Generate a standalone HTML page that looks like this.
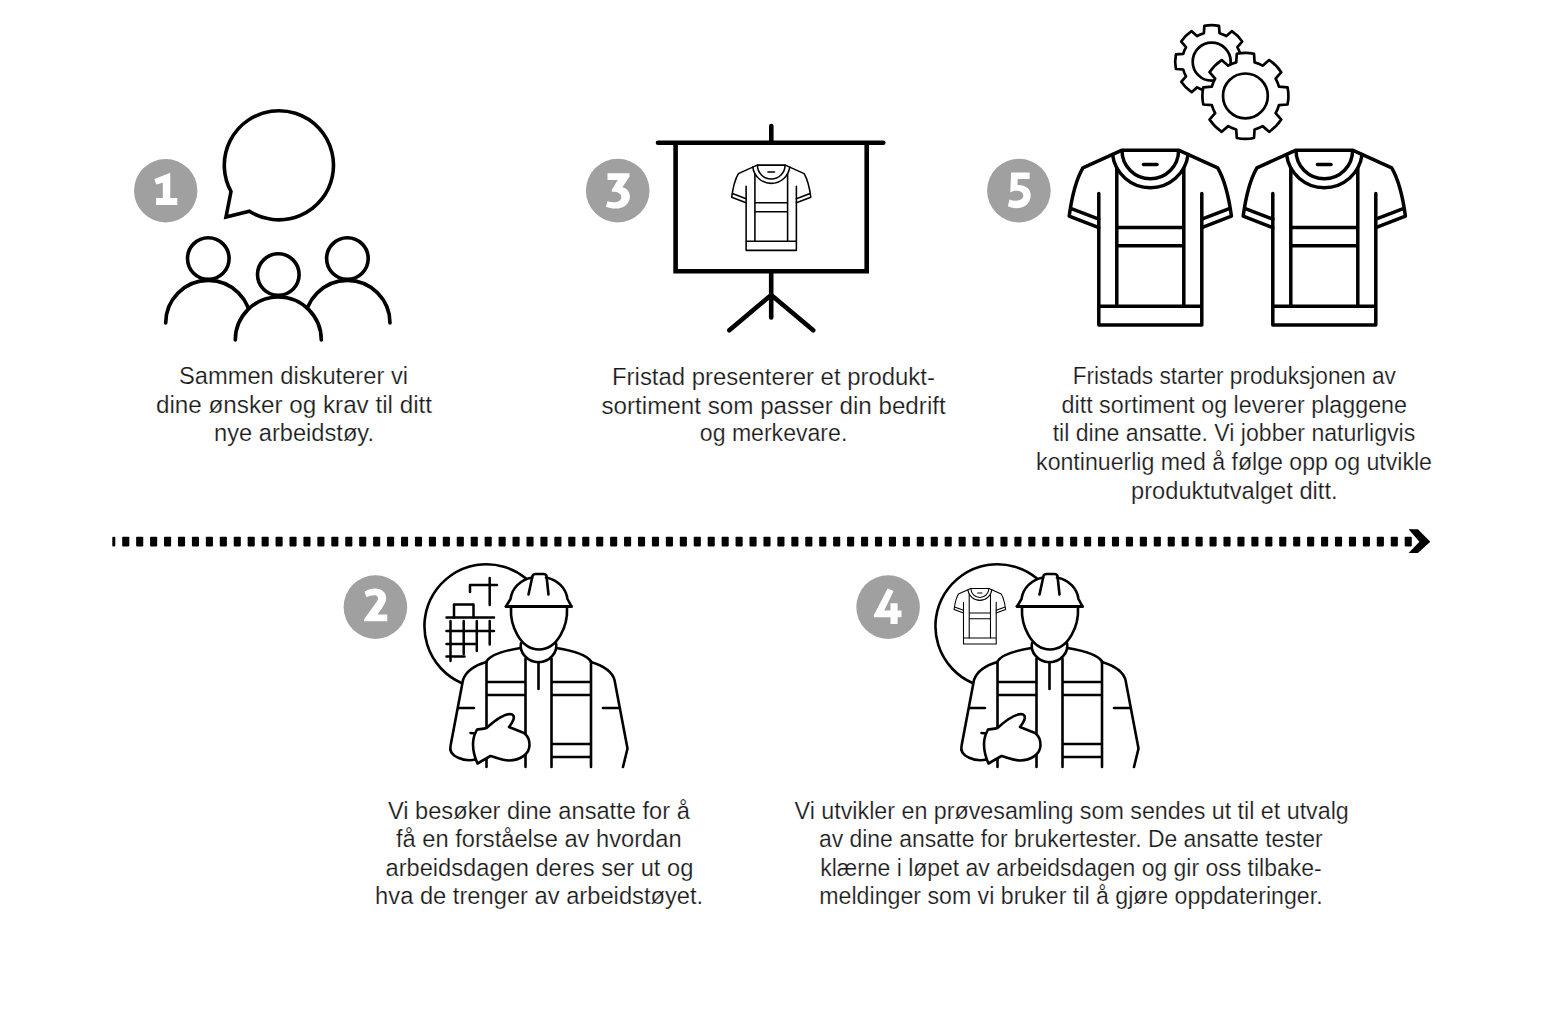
<!DOCTYPE html>
<html><head><meta charset="utf-8"><title>Fristad process</title>
<style>
html,body{margin:0;padding:0;background:#fff;}
body{width:1550px;height:1016px;overflow:hidden;position:relative;}
svg{position:absolute;left:0;top:0;display:block;}
.txt text{font-family:"Liberation Sans",sans-serif;font-size:23.5px;fill:#1a1a1a;stroke:#fff;stroke-width:0.2px;}
</style></head><body>
<svg width="1550" height="1016" viewBox="0 0 1550 1016">
<defs>
<g id="shirt" fill="none" stroke-linecap="round" stroke-linejoin="round">
<path d="M1123,150.3H1177.6"/>
<path d="M1121.5,150.3L1082.9,167.8Q1073.5,184 1069.2,216.1L1098.8,227.6M1070.7,208.4L1098.8,219.1"/>
<path d="M1179.1,150.3L1217.7,167.8Q1227.1,184 1231.4,216.1L1201.8,227.6M1229.9,208.4L1201.8,219.1"/>
<path d="M1098.8,193.6V325H1201.8V193.6M1098.8,306.2H1201.8"/>
<path d="M1116.8,168V306.2M1183.8,168V306.2M1116.8,227.5H1183.8M1116.8,245.8H1183.8"/>
<path d="M1122,150.5A28.3,28.3 0 0 0 1178.6,150.5"/>
<path d="M1112.5,154.4A38.1,38.1 0 0 0 1188.1,154.4"/>
<path d="M1143.5,164.5H1157"/>
</g>
</defs>
<g fill="#a0a0a0">
<circle cx="165.7" cy="190.7" r="31.7"/>
<circle cx="375.4" cy="607.1" r="31.8"/>
<circle cx="617.7" cy="190.6" r="31.8"/>
<circle cx="888.1" cy="607.1" r="31.8"/>
<circle cx="1018.9" cy="190.6" r="31.8"/>
</g>
<g fill="#fff">
<path d="M170.25,172.8V198H177.3V205.1H156.1V198H162.8V182.7L156.1,184.6L154.5,179.1Z"/>
<path d="M364.5,591.8C368,589.5 371.5,588.6 375.1,588.6C381.5,588.6 386.2,592.5 386.2,598.1C386.2,602 384,605.5 377.5,614.6H387.3V621.3H364.1V619.3L376.5,602C377.5,600.5 378,599.5 378,598.3C378,596.4 376.5,595.3 374.4,595.3C371.7,595.3 369,596.2 366.5,597.3Z"/>
<path d="M607.5,173.2H629.5V176.5L622.4,187.2C626.8,188.2 629.9,191.6 629.9,196.4C629.9,203.5 623.8,208.6 615.4,208.6C611.9,208.6 608.6,207.8 605.9,206.7L607.5,201.2C609.6,201.9 611.6,202.3 613.8,202.3C618.2,202.3 621.3,200.2 621.3,197.2C621.3,193.6 618,191.7 613,191.7H611.8V189.8L617.7,179.9H607.5Z"/>
<path d="M887.7,588.6L893.6,591L884.2,610.6H890.5V603.2H897.6V610.6H901.5V617.3H897.6V624H890.5V617.3H873.9V615Z"/>
<path d="M1011.1,172.4H1029.6V179.1H1017.7L1017.4,185C1025.5,184.8 1030.7,189 1030.7,195.2C1030.7,203 1024.8,208.2 1016.5,208.2C1013.3,208.2 1010.4,207.5 1007.9,206.3L1009.5,199.6C1011.5,200.4 1013.5,200.8 1015.8,200.8C1020.3,200.8 1023.3,198.7 1023.3,195.6C1023.3,192.6 1020.3,190.8 1015.8,190.8C1013.8,190.8 1012,191.4 1010.3,192.5Z"/>
</g>

<g fill="none" stroke="#000" stroke-width="3.6" stroke-linejoin="miter" stroke-linecap="round">
<path d="M231,191.5L226,217L249.5,211.3A54.6,54.6 0 1 0 231,191.5Z" fill="#fff"/>
<path d="M165.7,323A42.6,42.6 0 0 1 250.9,323"/>
<path d="M304.8,323A42.6,42.6 0 0 1 390,323"/>
<path d="M235.3,340A43,43 0 0 1 321.3,340" fill="#fff"/>
<circle cx="208.3" cy="258.6" r="20.8"/>
<circle cx="278.3" cy="274.6" r="20.8"/>
<circle cx="347.4" cy="258.6" r="20.8"/>
</g>

<g fill="none" stroke="#000" stroke-width="4.6" stroke-linecap="round" stroke-linejoin="miter">
<path d="M658,142.7H883.3"/>
<path d="M771.3,126V142.7"/>
<path d="M675.6,142.7V271.2H866.7V142.7" stroke-linecap="butt"/>
<path d="M771.2,271.2V317.5M729.3,330.3L771.2,295L813.2,330.3"/>
</g>
<use href="#shirt" stroke="#000" stroke-width="3.2" transform="translate(209.904,91.754) scale(0.488)"/>

<g fill="#fff" stroke="#000" stroke-width="2.7" stroke-linejoin="round">
<path d="M1203.89,33.21L1204.40,25.93A36.51,36.51 0 0 1 1219.00,25.93L1219.51,33.21A29.55,29.55 0 0 1 1226.33,36.03L1231.83,31.24A36.51,36.51 0 0 1 1242.16,41.57L1237.37,47.07A29.55,29.55 0 0 1 1240.19,53.89L1247.47,54.40A36.51,36.51 0 0 1 1247.47,69.00L1240.19,69.51A29.55,29.55 0 0 1 1237.37,76.33L1242.16,81.83A36.51,36.51 0 0 1 1231.83,92.16L1226.33,87.37A29.55,29.55 0 0 1 1219.51,90.19L1219.00,97.47A36.51,36.51 0 0 1 1204.40,97.47L1203.89,90.19A29.55,29.55 0 0 1 1197.07,87.37L1191.57,92.16A36.51,36.51 0 0 1 1181.24,81.83L1186.03,76.33A29.55,29.55 0 0 1 1183.21,69.51L1175.93,69.00A36.51,36.51 0 0 1 1175.93,54.40L1183.21,53.89A29.55,29.55 0 0 1 1186.03,47.07L1181.24,41.57A36.51,36.51 0 0 1 1191.57,31.24L1197.07,36.03A29.55,29.55 0 0 1 1203.89,33.21Z"/>
<circle cx="1211.7" cy="61.7" r="19" fill="none"/>
<path d="M1236.20,62.34L1236.80,53.77A43.00,43.00 0 0 1 1254.00,53.77L1254.60,62.34A34.80,34.80 0 0 1 1262.63,65.66L1269.11,60.03A43.00,43.00 0 0 1 1281.27,72.19L1275.64,78.67A34.80,34.80 0 0 1 1278.96,86.70L1287.53,87.30A43.00,43.00 0 0 1 1287.53,104.50L1278.96,105.10A34.80,34.80 0 0 1 1275.64,113.13L1281.27,119.61A43.00,43.00 0 0 1 1269.11,131.77L1262.63,126.14A34.80,34.80 0 0 1 1254.60,129.46L1254.00,138.03A43.00,43.00 0 0 1 1236.80,138.03L1236.20,129.46A34.80,34.80 0 0 1 1228.17,126.14L1221.69,131.77A43.00,43.00 0 0 1 1209.53,119.61L1215.16,113.13A34.80,34.80 0 0 1 1211.84,105.10L1203.27,104.50A43.00,43.00 0 0 1 1203.27,87.30L1211.84,86.70A34.80,34.80 0 0 1 1215.16,78.67L1209.53,72.19A43.00,43.00 0 0 1 1221.69,60.03L1228.17,65.66A34.80,34.80 0 0 1 1236.20,62.34Z"/>
<circle cx="1245.4" cy="95.9" r="22.4" fill="none"/>
</g>
<use href="#shirt" stroke="#000" stroke-width="3.5"/>
<use href="#shirt" stroke="#000" stroke-width="3.5" transform="translate(174,0)"/>

<g fill="#000">
<rect x="112.3" y="536.8" width="3" height="9.6" rx="1"/><rect x="122.20" y="536.8" width="7.1" height="9.6" rx="0.8"/><rect x="136.14" y="536.8" width="7.1" height="9.6" rx="0.8"/><rect x="150.08" y="536.8" width="7.1" height="9.6" rx="0.8"/><rect x="164.02" y="536.8" width="7.1" height="9.6" rx="0.8"/><rect x="177.96" y="536.8" width="7.1" height="9.6" rx="0.8"/><rect x="191.90" y="536.8" width="7.1" height="9.6" rx="0.8"/><rect x="205.84" y="536.8" width="7.1" height="9.6" rx="0.8"/><rect x="219.78" y="536.8" width="7.1" height="9.6" rx="0.8"/><rect x="233.72" y="536.8" width="7.1" height="9.6" rx="0.8"/><rect x="247.66" y="536.8" width="7.1" height="9.6" rx="0.8"/><rect x="261.60" y="536.8" width="7.1" height="9.6" rx="0.8"/><rect x="275.54" y="536.8" width="7.1" height="9.6" rx="0.8"/><rect x="289.48" y="536.8" width="7.1" height="9.6" rx="0.8"/><rect x="303.42" y="536.8" width="7.1" height="9.6" rx="0.8"/><rect x="317.36" y="536.8" width="7.1" height="9.6" rx="0.8"/><rect x="331.30" y="536.8" width="7.1" height="9.6" rx="0.8"/><rect x="345.24" y="536.8" width="7.1" height="9.6" rx="0.8"/><rect x="359.18" y="536.8" width="7.1" height="9.6" rx="0.8"/><rect x="373.12" y="536.8" width="7.1" height="9.6" rx="0.8"/><rect x="387.06" y="536.8" width="7.1" height="9.6" rx="0.8"/><rect x="401.00" y="536.8" width="7.1" height="9.6" rx="0.8"/><rect x="414.94" y="536.8" width="7.1" height="9.6" rx="0.8"/><rect x="428.88" y="536.8" width="7.1" height="9.6" rx="0.8"/><rect x="442.82" y="536.8" width="7.1" height="9.6" rx="0.8"/><rect x="456.76" y="536.8" width="7.1" height="9.6" rx="0.8"/><rect x="470.70" y="536.8" width="7.1" height="9.6" rx="0.8"/><rect x="484.64" y="536.8" width="7.1" height="9.6" rx="0.8"/><rect x="498.58" y="536.8" width="7.1" height="9.6" rx="0.8"/><rect x="512.52" y="536.8" width="7.1" height="9.6" rx="0.8"/><rect x="526.46" y="536.8" width="7.1" height="9.6" rx="0.8"/><rect x="540.40" y="536.8" width="7.1" height="9.6" rx="0.8"/><rect x="554.34" y="536.8" width="7.1" height="9.6" rx="0.8"/><rect x="568.28" y="536.8" width="7.1" height="9.6" rx="0.8"/><rect x="582.22" y="536.8" width="7.1" height="9.6" rx="0.8"/><rect x="596.16" y="536.8" width="7.1" height="9.6" rx="0.8"/><rect x="610.10" y="536.8" width="7.1" height="9.6" rx="0.8"/><rect x="624.04" y="536.8" width="7.1" height="9.6" rx="0.8"/><rect x="637.98" y="536.8" width="7.1" height="9.6" rx="0.8"/><rect x="651.92" y="536.8" width="7.1" height="9.6" rx="0.8"/><rect x="665.86" y="536.8" width="7.1" height="9.6" rx="0.8"/><rect x="679.80" y="536.8" width="7.1" height="9.6" rx="0.8"/><rect x="693.74" y="536.8" width="7.1" height="9.6" rx="0.8"/><rect x="707.68" y="536.8" width="7.1" height="9.6" rx="0.8"/><rect x="721.62" y="536.8" width="7.1" height="9.6" rx="0.8"/><rect x="735.56" y="536.8" width="7.1" height="9.6" rx="0.8"/><rect x="749.50" y="536.8" width="7.1" height="9.6" rx="0.8"/><rect x="763.44" y="536.8" width="7.1" height="9.6" rx="0.8"/><rect x="777.38" y="536.8" width="7.1" height="9.6" rx="0.8"/><rect x="791.32" y="536.8" width="7.1" height="9.6" rx="0.8"/><rect x="805.26" y="536.8" width="7.1" height="9.6" rx="0.8"/><rect x="819.20" y="536.8" width="7.1" height="9.6" rx="0.8"/><rect x="833.14" y="536.8" width="7.1" height="9.6" rx="0.8"/><rect x="847.08" y="536.8" width="7.1" height="9.6" rx="0.8"/><rect x="861.02" y="536.8" width="7.1" height="9.6" rx="0.8"/><rect x="874.96" y="536.8" width="7.1" height="9.6" rx="0.8"/><rect x="888.90" y="536.8" width="7.1" height="9.6" rx="0.8"/><rect x="902.84" y="536.8" width="7.1" height="9.6" rx="0.8"/><rect x="916.78" y="536.8" width="7.1" height="9.6" rx="0.8"/><rect x="930.72" y="536.8" width="7.1" height="9.6" rx="0.8"/><rect x="944.66" y="536.8" width="7.1" height="9.6" rx="0.8"/><rect x="958.60" y="536.8" width="7.1" height="9.6" rx="0.8"/><rect x="972.54" y="536.8" width="7.1" height="9.6" rx="0.8"/><rect x="986.48" y="536.8" width="7.1" height="9.6" rx="0.8"/><rect x="1000.42" y="536.8" width="7.1" height="9.6" rx="0.8"/><rect x="1014.36" y="536.8" width="7.1" height="9.6" rx="0.8"/><rect x="1028.30" y="536.8" width="7.1" height="9.6" rx="0.8"/><rect x="1042.24" y="536.8" width="7.1" height="9.6" rx="0.8"/><rect x="1056.18" y="536.8" width="7.1" height="9.6" rx="0.8"/><rect x="1070.12" y="536.8" width="7.1" height="9.6" rx="0.8"/><rect x="1084.06" y="536.8" width="7.1" height="9.6" rx="0.8"/><rect x="1098.00" y="536.8" width="7.1" height="9.6" rx="0.8"/><rect x="1111.94" y="536.8" width="7.1" height="9.6" rx="0.8"/><rect x="1125.88" y="536.8" width="7.1" height="9.6" rx="0.8"/><rect x="1139.82" y="536.8" width="7.1" height="9.6" rx="0.8"/><rect x="1153.76" y="536.8" width="7.1" height="9.6" rx="0.8"/><rect x="1167.70" y="536.8" width="7.1" height="9.6" rx="0.8"/><rect x="1181.64" y="536.8" width="7.1" height="9.6" rx="0.8"/><rect x="1195.58" y="536.8" width="7.1" height="9.6" rx="0.8"/><rect x="1209.52" y="536.8" width="7.1" height="9.6" rx="0.8"/><rect x="1223.46" y="536.8" width="7.1" height="9.6" rx="0.8"/><rect x="1237.40" y="536.8" width="7.1" height="9.6" rx="0.8"/><rect x="1251.34" y="536.8" width="7.1" height="9.6" rx="0.8"/><rect x="1265.28" y="536.8" width="7.1" height="9.6" rx="0.8"/><rect x="1279.22" y="536.8" width="7.1" height="9.6" rx="0.8"/><rect x="1293.16" y="536.8" width="7.1" height="9.6" rx="0.8"/><rect x="1307.10" y="536.8" width="7.1" height="9.6" rx="0.8"/><rect x="1321.04" y="536.8" width="7.1" height="9.6" rx="0.8"/><rect x="1334.98" y="536.8" width="7.1" height="9.6" rx="0.8"/><rect x="1348.92" y="536.8" width="7.1" height="9.6" rx="0.8"/><rect x="1362.86" y="536.8" width="7.1" height="9.6" rx="0.8"/><rect x="1376.80" y="536.8" width="7.1" height="9.6" rx="0.8"/><rect x="1390.74" y="536.8" width="7.1" height="9.6" rx="0.8"/><rect x="1404.68" y="536.8" width="7.1" height="9.6" rx="0.8"/>
<path d="M1408.6,529.3H1417.9L1430.3,541.7L1417.9,553.1H1408.6L1419.4,541.7Z"/>
</g>

<g>
<g id="worker" fill="none" stroke="#000" stroke-width="2.6" stroke-linecap="round" stroke-linejoin="round">
<path d="M461.5,683A62,62 0 1 1 526,578.5"/>
<path d="M506,606.5H571.5" stroke-width="2.9"/>
<path d="M506,606.5L510.5,599C512,588 520,580 532,577.5M546,577.5C558,580 566,588 567.5,599L571.5,606.5"/>
<path d="M528.5,594.5L532.5,576C533,574.5 534,574 535.5,574H543.5C545,574 546,574.5 546.5,576L548.5,594.5"/>
<path d="M511,608C510,625 520,649.5 539,649.5C558,649.5 568,625 567,608"/>
<path d="M521,643C519,652 527,662.2 538.5,662.2C550,662.2 558,652 556,643"/>
<path d="M520.5,648C505,650.5 490,655 486.5,661.5M556.5,648C572,650.5 587,655 591,661.5"/>
<path d="M486.5,662C476,665 466,671 463,680L450.5,746C448,757 465,762 475.5,759.5"/>
<path d="M591,662C601,665 612,671 614.5,680L627.5,748.5L623,767"/>
<path d="M486.5,661.5V767M525.5,658.5V767M551.5,658.5V767M591,661.5V767"/>
<path stroke-linecap="butt" d="M486.5,682H525.5M486.5,695H525.5M551.5,682H591M551.5,695H591M551.5,744H591M551.5,757H591"/>
<path d="M538.5,662V689M458.5,708H474M603,708H619"/>
<path fill="#fff" d="M486.5,728C492,723 502,714.5 510,714C513,714 514.5,716 513.5,719.5C512.5,722 511,724.5 509,727L524,733C528,736 529.5,740 529.5,745C529.5,754 520,760.5 509,760.5C502,760.5 496,757.5 490.5,756L477.5,763.5C474.5,757 473,750 473,744C473,739 474,735 477,729.5C480,729 483.5,729 486.5,728Z"/>
<path d="M470.5,733L475,733.5"/>
</g>
<g fill="none" stroke="#000" stroke-width="2.5" stroke-linecap="round">
<path d="M489.7,578V605M470,585H497M470,585V592"/>
<path d="M454,617.5V604.5H473.5V617.5" stroke-linejoin="round"/>
<path d="M446.5,617.5H494M446.5,631H494M446.5,644H476M446.5,656.5H464.5"/>
<path d="M450.5,621V661M463.7,621V654M476.8,621V651M489.7,621V644.5"/>
</g>
</g>
<use href="#worker" transform="translate(511,0)"/>
<use href="#shirt" stroke="#000" stroke-width="3.4" transform="translate(614.515,540.765) scale(0.3176)"/>

<g class="txt">
<text x="179.0" y="384.0" textLength="229.0" lengthAdjust="spacingAndGlyphs">Sammen diskuterer vi</text>
<text x="156.0" y="412.6" textLength="276.0" lengthAdjust="spacingAndGlyphs">dine ønsker og krav til ditt</text>
<text x="214.0" y="441.4" textLength="160.0" lengthAdjust="spacingAndGlyphs">nye arbeidstøy.</text>
<text x="612.0" y="384.8" textLength="322.9" lengthAdjust="spacingAndGlyphs">Fristad presenterer et produkt-</text>
<text x="601.5" y="413.5" textLength="344.2" lengthAdjust="spacingAndGlyphs">sortiment som passer din bedrift</text>
<text x="699.8" y="441.0" textLength="147.5" lengthAdjust="spacingAndGlyphs">og merkevare.</text>
<text x="1072.7" y="384.1" textLength="323.2" lengthAdjust="spacingAndGlyphs">Fristads starter produksjonen av</text>
<text x="1061.6" y="413.3" textLength="345.4" lengthAdjust="spacingAndGlyphs">ditt sortiment og leverer plaggene</text>
<text x="1052.7" y="441.0" textLength="362.6" lengthAdjust="spacingAndGlyphs">til dine ansatte. Vi jobber naturligvis</text>
<text x="1036.1" y="470.1" textLength="395.9" lengthAdjust="spacingAndGlyphs">kontinuerlig med å følge opp og utvikle</text>
<text x="1131.0" y="499.2" textLength="206.6" lengthAdjust="spacingAndGlyphs">produktutvalget ditt.</text>
<text x="387.9" y="819.0" textLength="301.9" lengthAdjust="spacingAndGlyphs">Vi besøker dine ansatte for å</text>
<text x="396.0" y="847.4" textLength="285.6" lengthAdjust="spacingAndGlyphs">få en forståelse av hvordan</text>
<text x="385.5" y="876.0" textLength="307.8" lengthAdjust="spacingAndGlyphs">arbeidsdagen deres ser ut og</text>
<text x="375.1" y="904.3" textLength="328.1" lengthAdjust="spacingAndGlyphs">hva de trenger av arbeidstøyet.</text>
<text x="794.6" y="819.0" textLength="554.2" lengthAdjust="spacingAndGlyphs">Vi utvikler en prøvesamling som sendes ut til et utvalg</text>
<text x="818.9" y="847.1" textLength="503.7" lengthAdjust="spacingAndGlyphs">av dine ansatte for brukertester. De ansatte tester</text>
<text x="820.2" y="876.0" textLength="501.4" lengthAdjust="spacingAndGlyphs">klærne i løpet av arbeidsdagen og gir oss tilbake-</text>
<text x="819.3" y="904.1" textLength="503.3" lengthAdjust="spacingAndGlyphs">meldinger som vi bruker til å gjøre oppdateringer.</text>
</g>
</svg>
</body></html>
